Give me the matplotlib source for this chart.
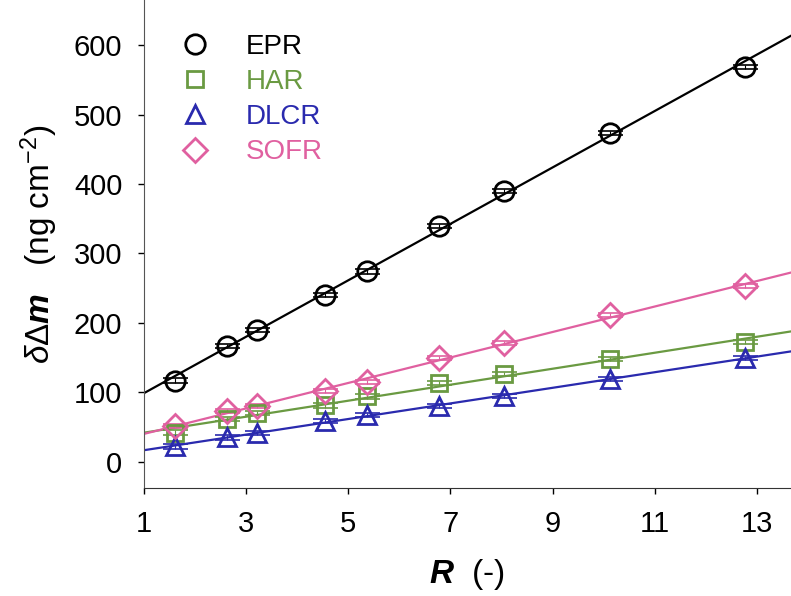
import numpy as np
import matplotlib.pyplot as plt

plt.rcParams['font.family'] = ['Liberation Sans', 'DejaVu Sans']
plt.rcParams['mathtext.fontset'] = 'custom'
plt.rcParams['mathtext.rm'] = 'Liberation Sans'
plt.rcParams['mathtext.it'] = 'Liberation Sans:italic'
plt.rcParams['mathtext.bf'] = 'Liberation Sans:bold'
plt.rcParams['mathtext.bfit'] = 'Liberation Sans:bold:italic'

# R values (same for all series)
R = [1.60, 2.62, 3.22, 4.54, 5.37, 6.78, 8.05, 10.13, 12.77]

epr = [117, 167, 190, 240, 274, 340, 390, 474, 569]
har = [42, 61, 70, 81, 94, 113, 126, 148, 172]
dlcr = [22, 35, 41, 59, 67, 80, 95, 119, 149]
sofr = [51, 73, 80, 102, 115, 150, 171, 211, 253]
err = [3, 3, 3, 3, 3, 3, 3, 3, 3]

names = ['EPR', 'HAR', 'DLCR', 'SOFR']
series = [epr, har, dlcr, sofr]
colors = ['#000000', '#6a9a42', '#2a2aae', '#e060a0']
markers = ['o', 's', '^', 'D']
msizes = [14, 11.5, 13, 12.5]

fig = plt.figure(figsize=(7.91, 5.96), dpi=100)
ax = fig.add_axes([0.182, 0.181, 0.818, 0.819])

xlim = (1, 13.67)
xx = np.array(xlim)
handles = []
for name, y, c, m, ms in zip(names, series, colors, markers, msizes):
    # fitted line through the points
    k, b = np.polyfit(R, y, 1)
    ax.plot(xx, k * xx + b, color=c, lw=1.6, zorder=2)
    ax.errorbar(R, y, yerr=err, fmt='none', ecolor=c, elinewidth=0.8,
                capsize=9, capthick=1.2, zorder=3)
    h, = ax.plot(R, y, ls='none', marker=m, ms=ms, mfc='none', mec=c,
                 mew=2, zorder=4)
    handles.append(h)

leg = ax.legend(handles, names, loc='upper left', frameon=False,
                fontsize=20, bbox_to_anchor=(-0.003, 0.982), handletextpad=0.85,
                labelspacing=0.33, handlelength=2.0)
for t, c in zip(leg.get_texts(), colors):
    t.set_color(c)

ax.set_xlim(*xlim)
ax.set_ylim(-38, 665)
ax.set_xticks([1, 3, 5, 7, 9, 11, 13])
ax.set_yticks([0, 100, 200, 300, 400, 500, 600])
ax.tick_params(labelsize=21, length=4.5, width=1, pad=11)
for s in ['top', 'right']:
    ax.spines[s].set_visible(False)
ax.spines['left'].set_color('#555555')
ax.spines['bottom'].set_color('#333333')

ax.set_xlabel(r'$\mathbfit{R}$  (-)', fontsize=24, labelpad=14)
ax.set_ylabel(r'$\delta\Delta\mathbfit{m}$   (ng cm$^{-2}$)', fontsize=24, labelpad=10)

fig.savefig('out.png', dpi=100)
